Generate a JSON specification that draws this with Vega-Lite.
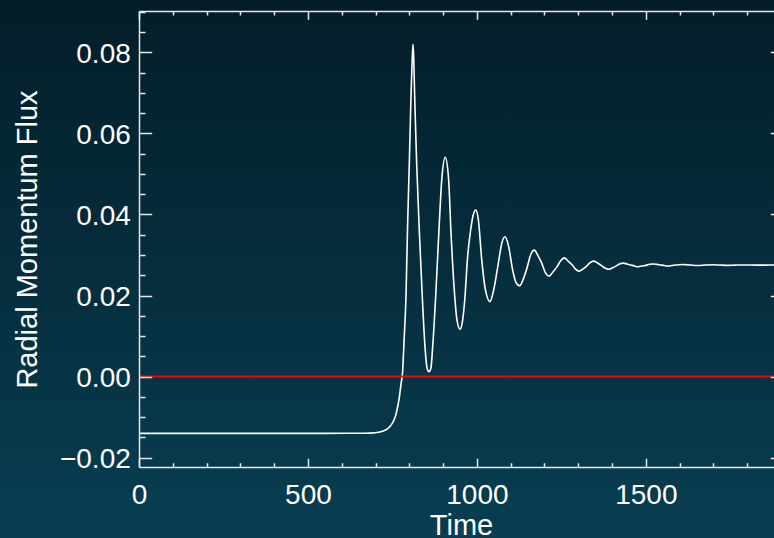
{
  "$schema": "https://vega.github.io/schema/vega-lite/v6.json",
  "width": 644,
  "height": 456,
  "autosize": {"type": "none"},
  "padding": {"left": 139, "top": 11, "right": -9, "bottom": 71},
  "background": "#062e3d",
  "config": {
    "view": {"stroke": null},
    "font": "Liberation Sans",
    "axis": {
      "zindex": 1,
      "grid": false,
      "domainColor": "#e8e8e8",
      "domainWidth": 1.5,
      "tickColor": "#e8e8e8",
      "tickWidth": 1.5,
      "labelColor": "#ffffff",
      "labelFont": "Liberation Sans",
      "labelFontSize": 28,
      "labelFlush": false,
      "labelOverlap": false,
      "titleColor": "#ffffff",
      "titleFont": "Liberation Sans",
      "titleFontSize": 29,
      "titleFontWeight": "normal"
    }
  },
  "datasets": {
    "flux": [
      {"t": 0, "v": -0.014},
      {"t": 200, "v": -0.014},
      {"t": 400, "v": -0.014},
      {"t": 550, "v": -0.014},
      {"t": 620, "v": -0.01399},
      {"t": 660, "v": -0.01397},
      {"t": 683.6, "v": -0.01394},
      {"t": 713.2, "v": -0.01367},
      {"t": 731.0, "v": -0.01312},
      {"t": 742.8, "v": -0.01231},
      {"t": 752.6, "v": -0.01108},
      {"t": 760.0, "v": -0.00947},
      {"t": 766.0, "v": -0.00725},
      {"t": 771.0, "v": -0.00479},
      {"t": 775.4, "v": -0.00183},
      {"t": 780.1, "v": 0.00113},
      {"t": 783.0, "v": 0.00607},
      {"t": 786.0, "v": 0.0115},
      {"t": 790.2, "v": 0.0197},
      {"t": 794.6, "v": 0.0362},
      {"t": 800, "v": 0.0526},
      {"t": 805, "v": 0.069},
      {"t": 808.5, "v": 0.0781},
      {"t": 810.9, "v": 0.082},
      {"t": 813.3, "v": 0.0781},
      {"t": 815.9, "v": 0.069},
      {"t": 821.8, "v": 0.0526},
      {"t": 829.5, "v": 0.0362},
      {"t": 838.4, "v": 0.0197},
      {"t": 846.4, "v": 0.0074},
      {"t": 852.3, "v": 0.0022},
      {"t": 858.2, "v": 0.0012},
      {"t": 864.2, "v": 0.0022},
      {"t": 869.2, "v": 0.0074},
      {"t": 878, "v": 0.0197},
      {"t": 887.8, "v": 0.0362},
      {"t": 896, "v": 0.0485},
      {"t": 906.5, "v": 0.0541},
      {"t": 916.5, "v": 0.0485},
      {"t": 923, "v": 0.0362},
      {"t": 933, "v": 0.0215},
      {"t": 941, "v": 0.014},
      {"t": 950, "v": 0.0117},
      {"t": 958, "v": 0.014},
      {"t": 964.8, "v": 0.0197},
      {"t": 972, "v": 0.029},
      {"t": 981.6, "v": 0.0362},
      {"t": 989, "v": 0.0398},
      {"t": 996.4, "v": 0.0411},
      {"t": 1004, "v": 0.039},
      {"t": 1014.2, "v": 0.029},
      {"t": 1025, "v": 0.0215},
      {"t": 1038.8, "v": 0.0185},
      {"t": 1050, "v": 0.0215},
      {"t": 1063.3, "v": 0.0279},
      {"t": 1074, "v": 0.033},
      {"t": 1083.2, "v": 0.0345},
      {"t": 1093, "v": 0.0325},
      {"t": 1105.9, "v": 0.0263},
      {"t": 1116, "v": 0.0232},
      {"t": 1126.7, "v": 0.0224},
      {"t": 1137, "v": 0.024},
      {"t": 1148.3, "v": 0.0268},
      {"t": 1159, "v": 0.03},
      {"t": 1169.9, "v": 0.0312},
      {"t": 1181, "v": 0.0298},
      {"t": 1192, "v": 0.028},
      {"t": 1203, "v": 0.0256},
      {"t": 1214.3, "v": 0.0248},
      {"t": 1225, "v": 0.0258},
      {"t": 1236.5, "v": 0.027},
      {"t": 1248, "v": 0.0286},
      {"t": 1258.7, "v": 0.0293},
      {"t": 1270, "v": 0.0285},
      {"t": 1281, "v": 0.02765},
      {"t": 1292, "v": 0.0265},
      {"t": 1303, "v": 0.026},
      {"t": 1313, "v": 0.0265},
      {"t": 1324, "v": 0.0272},
      {"t": 1335, "v": 0.0281},
      {"t": 1344.5, "v": 0.0285},
      {"t": 1356, "v": 0.0281},
      {"t": 1367, "v": 0.0275},
      {"t": 1379, "v": 0.0268},
      {"t": 1390, "v": 0.0265},
      {"t": 1400, "v": 0.0268},
      {"t": 1411.5, "v": 0.02725},
      {"t": 1422, "v": 0.0278},
      {"t": 1433.3, "v": 0.028},
      {"t": 1444, "v": 0.0278},
      {"t": 1455.5, "v": 0.02755},
      {"t": 1466, "v": 0.0273},
      {"t": 1477.7, "v": 0.0271},
      {"t": 1488, "v": 0.0273},
      {"t": 1500, "v": 0.02745},
      {"t": 1511, "v": 0.0277},
      {"t": 1522, "v": 0.0278},
      {"t": 1533, "v": 0.0277},
      {"t": 1544, "v": 0.02755},
      {"t": 1555, "v": 0.0274},
      {"t": 1566, "v": 0.0273},
      {"t": 1577, "v": 0.0274},
      {"t": 1588, "v": 0.02752},
      {"t": 1599, "v": 0.0276},
      {"t": 1610, "v": 0.02765},
      {"t": 1632, "v": 0.02752},
      {"t": 1654, "v": 0.0274},
      {"t": 1676, "v": 0.02752},
      {"t": 1698, "v": 0.0276},
      {"t": 1720, "v": 0.02752},
      {"t": 1742, "v": 0.02745},
      {"t": 1764, "v": 0.0275},
      {"t": 1786, "v": 0.02755},
      {"t": 1830, "v": 0.0275},
      {"t": 1870, "v": 0.02752},
      {"t": 1906, "v": 0.0275}
    ],
    "zero": [{"t0": 0, "t1": 1906, "v": 0}]
  },
  "layer": [
    {
      "data": {"values": [{}]},
      "mark": {
        "type": "rect",
        "clip": false,
        "fill": {
          "gradient": "linear",
          "x1": 0, "y1": 0, "x2": 0, "y2": 1,
          "stops": [
            {"offset": 0, "color": "#031d28"},
            {"offset": 1, "color": "#083e52"}
          ]
        }
      },
      "encoding": {
        "x": {
          "datum": -420,
          "type": "quantitative",
          "scale": {"domain": [0, 1906], "nice": false, "zero": false},
          "axis": {
            "orient": "bottom",
            "zindex": 2,
            "title": "Time",
            "titleY": 67,
            "titleBaseline": "alphabetic",
            "values": [0, 100, 200, 300, 400, 500, 600, 700, 800, 900, 1000, 1100, 1200, 1300, 1400, 1500, 1600, 1700, 1800, 1900],
            "tickSize": {"condition": {"test": "datum.value % 500 === 0", "value": -8.7}, "value": -4.3},
            "labelPadding": 23.3,
            "labelExpr": "datum.value % 500 === 0 ? format(datum.value, 'd') : ''"
          }
        },
        "x2": {"datum": 1950},
        "y": {
          "datum": 0.0929,
          "type": "quantitative",
          "scale": {"domain": [-0.0223, 0.0902], "nice": false, "zero": false},
          "axis": {
            "orient": "left",
            "zindex": 2,
            "title": "Radial Momentum Flux",
            "titleX": -103,
            "titleBaseline": "alphabetic",
            "values": [-0.02, -0.015, -0.01, -0.005, 0, 0.005, 0.01, 0.015, 0.02, 0.025, 0.03, 0.035, 0.04, 0.045, 0.05, 0.055, 0.06, 0.065, 0.07, 0.075, 0.08, 0.085, 0.09],
            "tickSize": {"condition": {"test": "abs(datum.value * 50 - round(datum.value * 50)) < 1e-6", "value": -12.7}, "value": -6},
            "labelPadding": 21.4,
            "labelOffset": 2,
            "labelExpr": "abs(datum.value * 50 - round(datum.value * 50)) < 1e-6 ? format(datum.value, '.2f') : ''"
          }
        },
        "y2": {"datum": -0.0399}
      }
    },
    {
      "data": {"name": "flux"},
      "mark": {"type": "line", "color": "#ffffff", "strokeWidth": 1.6, "interpolate": "monotone", "clip": true},
      "encoding": {
        "x": {"field": "t", "type": "quantitative", "scale": {"domain": [0, 1906], "nice": false, "zero": false}, "axis": null},
        "y": {"field": "v", "type": "quantitative", "scale": {"domain": [-0.0223, 0.0902], "nice": false, "zero": false}, "axis": null}
      }
    },
    {
      "data": {"name": "zero"},
      "mark": {"type": "rule", "color": "#ff0000", "strokeWidth": 2, "clip": true},
      "encoding": {
        "x": {
          "field": "t0",
          "type": "quantitative",
          "scale": {"domain": [0, 1906], "nice": false, "zero": false},
          "axis": {
            "orient": "top",
            "zindex": 2,
            "title": null,
            "labels": false,
            "values": [0, 100, 200, 300, 400, 500, 600, 700, 800, 900, 1000, 1100, 1200, 1300, 1400, 1500, 1600, 1700, 1800, 1900],
            "tickSize": {"condition": {"test": "datum.value % 500 === 0", "value": -8.3}, "value": -4}
          }
        },
        "x2": {"field": "t1"},
        "y": {
          "field": "v",
          "type": "quantitative",
          "scale": {"domain": [-0.0223, 0.0902], "nice": false, "zero": false},
          "axis": {
            "orient": "right",
            "zindex": 2,
            "title": null,
            "labels": false,
            "values": [-0.02, -0.015, -0.01, -0.005, 0, 0.005, 0.01, 0.015, 0.02, 0.025, 0.03, 0.035, 0.04, 0.045, 0.05, 0.055, 0.06, 0.065, 0.07, 0.075, 0.08, 0.085, 0.09],
            "tickSize": {"condition": {"test": "abs(datum.value * 50 - round(datum.value * 50)) < 1e-6", "value": -12.7}, "value": -6}
          }
        }
      }
    }
  ],
  "resolve": {"axis": {"x": "independent", "y": "independent"}}
}
